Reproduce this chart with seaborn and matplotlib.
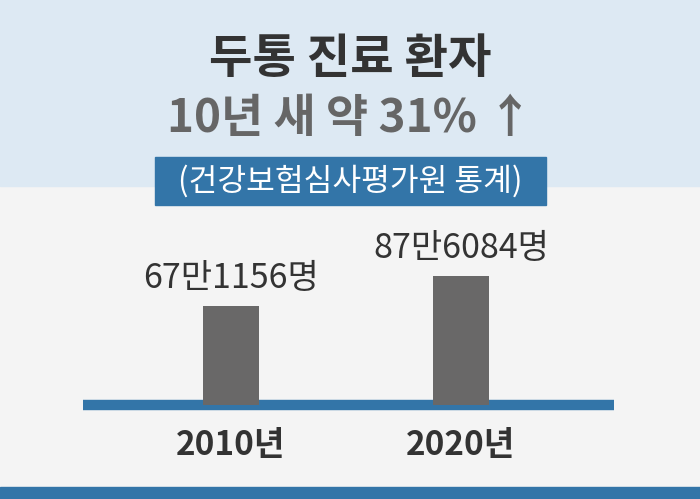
import matplotlib
matplotlib.use("Agg")
import matplotlib.pyplot as plt
import seaborn as sns
import pandas as pd
from matplotlib.patches import Rectangle

# ---- data ----
years = ["2010년", "2020년"]
patients = [671156, 876084]
value_labels = ["67만1156명", "87만6084명"]
title_line1 = "두통 진료 환자"
title_line2 = "10년 새 약 31% ↑"
subtitle = "(건강보험심사평가원 통계)"

sns.set_theme(style="white")
plt.rcParams['font.family'] = ['Noto Sans CJK KR', 'DejaVu Sans']

W, H = 700, 499
fig = plt.figure(figsize=(7, 4.99), dpi=100)
fig.patch.set_facecolor("#f4f4f4")

BLUE = "#3375a8"

def fy(y):  # pixel-from-top to figure fraction
    return 1 - y / H

# background bands
fig.add_artist(Rectangle((0, fy(186)), 1, 186 / H, transform=fig.transFigure,
                         color="#dde9f3", zorder=0))
fig.add_artist(Rectangle((0, 0), 1, 12 / H, transform=fig.transFigure,
                         color=BLUE, zorder=0))
fig.add_artist(Rectangle((155 / W, fy(205)), 391 / W, 48 / H, transform=fig.transFigure,
                         color=BLUE, zorder=0.5))

# titles
fig.text(0.5, fy(59), title_line1, ha="center", va="center", fontsize=34,
         fontweight="black", color="#333333")
fig.text(0.5, fy(119), title_line2, ha="center", va="center", fontsize=33,
         fontweight="black", color="#666666")
fig.text(0.5, fy(181), subtitle, ha="center", va="center", fontsize=22.5,
         color="white")

# chart
ax = fig.add_axes([83 / W, (H - 405) / H, 531 / W, 190 / H])
ax.set_zorder(1)
ax.patch.set_alpha(0)
df = pd.DataFrame({"year": years, "patients": patients})
sns.barplot(data=df, x="year", y="patients", color="#696868", width=0.243,
            saturation=1, ax=ax, zorder=2, linewidth=0)
ax.set_xlim(-0.643, 1.665)
ax.set_ylim(0, max(patients) * 190 / 129)
ax.axhline(0, color=BLUE, lw=7.5, clip_on=False, zorder=1, solid_capstyle="butt")
sns.despine(ax=ax, left=True, bottom=True)
ax.set_yticks([])
ax.set_xlabel("")
ax.set_ylabel("")
ax.tick_params(axis="x", length=0, pad=17)
for lab in ax.get_xticklabels():
    lab.set_fontsize(24)
    lab.set_fontweight("bold")
    lab.set_color("#333333")

for i, (v, t) in enumerate(zip(patients, value_labels)):
    ax.annotate(t, (i, v), xytext=(0, 13), textcoords="offset points",
                ha="center", va="baseline", fontsize=24.5, color="#333333")

fig.savefig("out.png", dpi=100, facecolor=fig.get_facecolor())
